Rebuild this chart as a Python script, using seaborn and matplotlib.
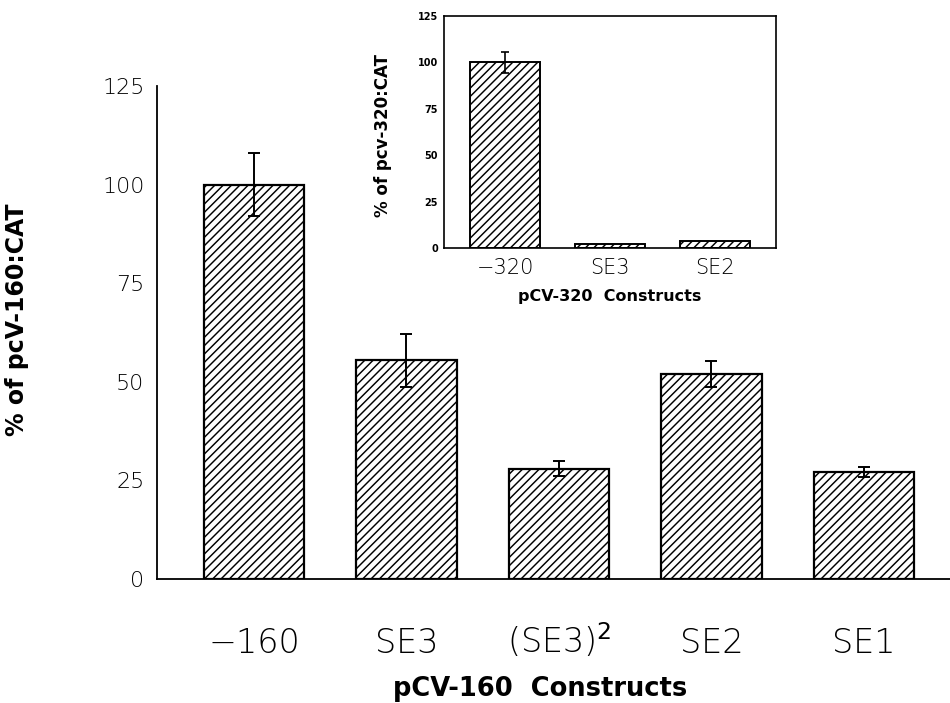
import matplotlib
matplotlib.use("Agg")
import matplotlib.pyplot as plt
import seaborn as sns
import pandas as pd

# ---- data ----
main_categories = ["\u2212160", "SE3", "(SE3)$^{2}$", "SE2", "SE1"]
main_values = [100.0, 55.5, 28.0, 52.0, 27.2]
main_errors = [8.0, 6.7, 2.0, 3.3, 1.3]
main_yticks = [0, 25, 50, 75, 100, 125]

inset_categories = ["\u2212320", "SE3", "SE2"]
inset_values = [100.0, 2.2, 3.6]
inset_errors = [5.6, 0.0, 0.0]
inset_yticks = [0, 25, 50, 75, 100, 125]

sns.set_style("white")
plt.rcParams["font.family"] = ["DejaVu Sans"]
plt.rcParams["mathtext.fontset"] = "dejavusans"
plt.rcParams["hatch.linewidth"] = 1.05
plt.rcParams["hatch.color"] = "black"
for k in ["text.color", "axes.labelcolor", "xtick.color", "ytick.color"]:
    plt.rcParams[k] = "black"

fig = plt.figure(figsize=(9.5, 7.03), dpi=100)
W, H = 950, 703

# ---- main axes ----
ax = fig.add_axes([157 / W, (H - 579) / H, 793 / W, 493 / H])
df_main = pd.DataFrame({"construct": main_categories, "pct": main_values})
sns.barplot(data=df_main, x="construct", y="pct", ax=ax, color="white",
            edgecolor="black", linewidth=1.6, hatch="////", width=0.66,
            errorbar=None, saturation=1)
xs = [p.get_x() + p.get_width() / 2 for p in ax.patches]
ax.errorbar(xs, main_values, yerr=main_errors, fmt="none", ecolor="black",
            elinewidth=1.4, capsize=4.6, capthick=1.4, zorder=5)
ax.set_xlim(-0.636, 4.564)
ax.set_ylim(0, 125)
ax.set_yticks(main_yticks)
ax.set_yticklabels([str(v) for v in main_yticks], fontsize=16, fontweight="light")
for s in ["top", "right"]:
    ax.spines[s].set_visible(False)
for s in ["left", "bottom"]:
    ax.spines[s].set_linewidth(1.3)
    ax.spines[s].set_color("black")
ax.tick_params(axis="y", direction="in", length=7, width=1.2, pad=9, colors="black")
ax.tick_params(axis="x", length=0, pad=53, labelsize=24, colors="black")
for lab in ax.get_xticklabels():
    lab.set_va("baseline")
    lab.set_fontweight("light")
ax.set_xlabel("pCV-160  Constructs", fontsize=18.5, fontweight="bold")
ax.xaxis.set_label_coords(0.483, -0.197)
ax.set_ylabel("% of pcV-160:CAT", fontsize=17, fontweight="bold")
ax.yaxis.set_label_coords(-0.162, 0.525)

# ---- inset axes ----
ia = fig.add_axes([444 / W, (H - 248) / H, 332 / W, 232 / H])
df_in = pd.DataFrame({"construct": inset_categories, "pct": inset_values})
sns.barplot(data=df_in, x="construct", y="pct", ax=ia, color="white",
            edgecolor="black", linewidth=1.4, hatch="////", width=0.667,
            errorbar=None, saturation=1)
ixs = [p.get_x() + p.get_width() / 2 for p in ia.patches]
ia.errorbar(ixs[:1], inset_values[:1], yerr=inset_errors[:1], fmt="none",
            ecolor="black", elinewidth=1.2, capsize=2.6, capthick=1.2, zorder=5)
ia.set_xlim(-0.584, 2.578)
ia.set_ylim(0, 125)
ia.set_yticks(inset_yticks)
ia.set_yticklabels([str(v) for v in inset_yticks], fontsize=7, fontweight="bold")
for s in ia.spines.values():
    s.set_visible(True)
    s.set_linewidth(1.2)
    s.set_color("black")
ia.tick_params(axis="y", direction="out", length=3, width=1.0, pad=1.5, colors="black")
ia.tick_params(axis="x", length=0, pad=19, labelsize=15, colors="black")
for lab in ia.get_xticklabels():
    lab.set_va("baseline")
    lab.set_fontweight("light")
ia.set_xlabel("pCV-320  Constructs", fontsize=11.5, fontweight="bold")
ia.xaxis.set_label_coords(0.5, -0.175)
ia.set_ylabel("% of pcv-320:CAT", fontsize=12, fontweight="bold")
ia.yaxis.set_label_coords(-0.157, 0.487)

fig.savefig("out.png", dpi=100, facecolor="white")
